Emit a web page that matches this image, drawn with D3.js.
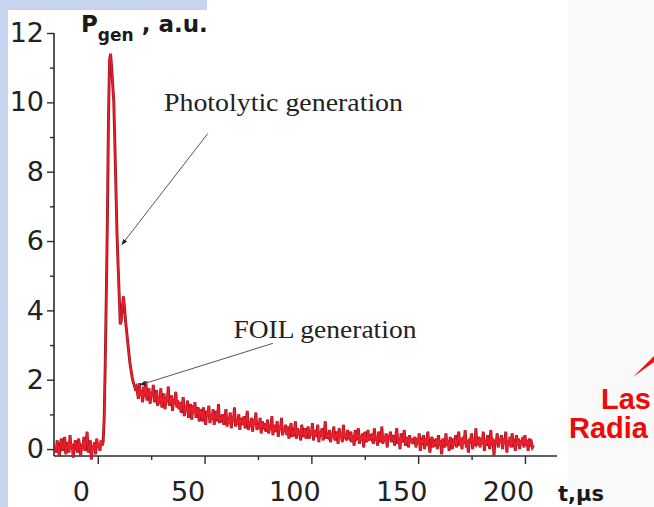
<!DOCTYPE html>
<html>
<head>
<meta charset="utf-8">
<script src="https://cdn.jsdelivr.net/npm/d3@7/dist/d3.min.js"></script>
<style>
  html, body { margin: 0; padding: 0; background: #ffffff; }
  svg { display: block; }
</style>
</head>
<body>
<div id="chart"></div>
<script>
// Generation power vs time (0.5 µs sampling)
const sampleStep = 0.5;

const baselineStart = -20;
const baselineSignal = [
  0.1, -0.1, 0.25, 0.0, -0.2, 0.15, 0.3, -0.05, 0.1, 0.35,
  -0.15, 0.05, 0.2, -0.1, 0.4, 0.0, 0.15, -0.25, 0.1, 0.25,
  0.05, -0.1, 0.3, 0.1, -0.2, 0.15, 0.0, 0.35, -0.05, 0.2,
  0.5, -0.1, 0.05, 0.25, -0.3, 0.1, 0.0, 0.2, -0.15, 0.3,
  0.05, 0.15, -0.05, 0.25, 0.1];

const pulseStart = 2.5;
const pulseSignal = [
  0.2, 0.9, 2.5, 4.5, 6.6, 9.5, 11.2, 11.4, 11.0, 10.5,
  10.0, 8.8, 7.5, 6.2, 5.3, 4.5, 3.6, 3.7, 4.1, 4.4,
  4.1, 3.7, 3.4, 3.1, 2.8, 2.5, 2.3, 2.1, 1.95, 1.85,
  1.75, 1.8];

const decayStart = 18.5;
const decaySignal = [
  1.65, 1.45, 1.9, 1.55, 1.7, 1.35, 1.8, 1.5, 1.95, 1.4, 1.6, 1.75, 1.3, 1.65, 1.5, 1.85, 1.35, 1.55, 1.7, 1.25,
  1.5, 1.3, 1.75, 1.2, 1.45, 1.6, 1.15, 1.5, 1.35, 1.8, 1.25, 1.4, 1.55, 1.1, 1.45, 1.3, 1.65, 1.2, 1.4, 1.15,
  1.35, 1.05, 1.25, 1.5, 0.95, 1.2, 1.1, 1.4, 0.9, 1.15, 1.3, 0.85, 1.25, 1.05, 1.35, 0.9, 1.1, 1.2, 0.8, 1.15,
  1.05, 0.8, 1.2, 0.9, 0.7, 1.1, 0.95, 1.25, 0.75, 1.0, 0.85, 1.15, 0.7, 0.95, 1.1, 0.8, 1.3, 0.75, 0.9, 0.85,
  1.0, 0.7, 0.9, 1.15, 0.65, 0.85, 0.75, 1.05, 0.6, 0.95, 0.8, 1.2, 0.65, 0.85, 0.7, 1.0, 0.55, 0.9, 0.8, 0.7,
  0.95, 0.6, 0.8, 1.1, 0.55, 0.75, 0.65, 0.9, 0.5, 0.85, 0.7, 1.05, 0.55, 0.7, 0.6, 0.9, 0.45, 0.8, 0.65, 0.6,
  0.75, 0.5, 0.85, 0.45, 0.65, 0.55, 0.95, 0.4, 0.7, 0.5, 0.6, 0.8, 0.35, 0.65, 0.55, 0.9, 0.4, 0.6, 0.5, 0.7,
  0.4, 0.65, 0.3, 0.55, 0.75, 0.35, 0.5, 0.45, 0.8, 0.3, 0.6, 0.4, 0.55, 0.25, 0.7, 0.45, 0.35, 0.6, 0.3, 0.5,
  0.65, 0.3, 0.5, 0.4, 0.75, 0.25, 0.55, 0.35, 0.45, 0.7, 0.2, 0.5, 0.4, 0.6, 0.25, 0.45, 0.8, 0.3, 0.4, 0.35,
  0.55, 0.2, 0.45, 0.35, 0.65, 0.25, 0.4, 0.5, 0.15, 0.6, 0.35, 0.45, 0.2, 0.7, 0.3, 0.4, 0.25, 0.55, 0.35, 0.3,
  0.5, 0.2, 0.4, 0.1, 0.55, 0.3, 0.35, 0.6, 0.15, 0.4, 0.25, 0.45, 0.05, 0.5, 0.3, 0.2, 0.55, 0.25, 0.35, 0.3,
  0.45, 0.15, 0.6, 0.25, 0.35, 0.1, 0.5, 0.3, 0.2, 0.65, 0.15, 0.35, 0.25, 0.45, 0.05, 0.4, 0.3, 0.5, 0.2, 0.3,
  0.4, 0.1, 0.35, 0.6, 0.15, 0.3, 0.0, 0.45, 0.2, 0.3, 0.55, 0.1, 0.25, 0.35, 0.05, 0.4, 0.2, 0.3, 0.15, 0.25,
  0.35, 0.05, 0.3, 0.15, 0.45, -0.05, 0.25, 0.2, 0.4, 0.0, 0.3, 0.1, 0.5, 0.15, -0.1, 0.25, 0.35, 0.05, 0.2, 0.15,
  0.3, 0.0, 0.4, 0.1, 0.25, -0.15, 0.3, 0.15, 0.05, 0.45, 0.1, 0.25, -0.05, 0.35, 0.2, 0.0, 0.3, 0.1, 0.4, 0.05,
  0.25, 0.5, 0.1, 0.3, 0.0, 0.35, 0.15, 0.55, 0.05, 0.25, -0.1, 0.3, 0.2, 0.45, 0.0, 0.25, 0.1, 0.6, 0.15, 0.2,
  0.35, 0.05, 0.3, 0.15, 0.5, -0.05, 0.25, 0.1, 0.4, 0.2, 0.0, 0.55, 0.1, 0.3, -0.2, 0.25, 0.15, 0.45, 0.05, 0.3,
  0.2, 0.4, 0.0, 0.3, 0.15, 0.5, -0.1, 0.25, 0.1, 0.35, 0.05, 0.45, 0.15, 0.2, -0.05, 0.4, 0.1, 0.3, 0.0, 0.25,
  0.15, 0.35, 0.05, 0.4, 0.1, 0.25, -0.05, 0.3, 0.15, 0.2, 0.05, 0.1];

const xTicks = [0, 50, 100, 150, 200];
const xMinorTicks = [25, 75, 125, 175];
const yTicks = [0, 2, 4, 6, 8, 10, 12];
const yMinorTicks = [1, 3, 5, 7, 9, 11];

// annotations: text position, arrow start and arrow tip, all in data units
const annotations = [
  { label: 'Photolytic generation', at: [31, 9.75], from: [51.5, 9.1], to: [11.3, 5.9], span: 239 },
  { label: 'FOIL generation', at: [63.5, 3.2], from: [82, 3.05], to: [19.8, 1.85], span: 183 }
];

const width = 654;
const height = 507;

const x = d3.scaleLinear().domain([-20.5, 215]).range([54, 557]);
const y = d3.scaleLinear().domain([-0.2, 12]).range([456, 33]);

const toPoints = (start, arr) => arr.map((v, i) => ({ t: start + i * sampleStep, v }));
const series = [
  ...toPoints(baselineStart, baselineSignal),
  ...toPoints(pulseStart, pulseSignal),
  ...toPoints(decayStart, decaySignal)
];

const svg = d3.select('#chart')
  .append('svg')
  .attr('width', width)
  .attr('height', height)
  .attr('viewBox', `0 0 ${width} ${height}`);

/* Page background pieces from the slide */
svg.append('rect').attr('width', width).attr('height', height).attr('fill', '#ffffff');
svg.append('rect').attr('x', 568).attr('y', 0).attr('width', width - 568).attr('height', height).attr('fill', '#f9f9f9');
svg.append('rect').attr('x', 0).attr('y', 0).attr('width', 207).attr('height', 10).attr('fill', '#c6d4ef');
svg.append('rect').attr('x', 0).attr('y', 0).attr('width', 8).attr('height', height).attr('fill', '#c6d4ef');

const axisColor = '#2b2b2b';
const labelFont = '"DejaVu Sans", "Liberation Sans", Arial, sans-serif';

/* Y axis */
const yAxis = svg.append('g')
  .attr('transform', `translate(${x.range()[0]},0)`)
  .call(d3.axisLeft(y).tickValues(yTicks).tickSize(7).tickPadding(3).tickSizeOuter(0));
yAxis.select('.domain').remove();
yAxis.selectAll('line').attr('stroke', axisColor).attr('stroke-width', 1.4);
yAxis.selectAll('text')
  .attr('fill', '#222')
  .attr('font-family', labelFont)
  .attr('font-size', 27);

svg.append('g')
  .attr('transform', `translate(${x.range()[0]},0)`)
  .call(d3.axisLeft(y).tickValues(yMinorTicks).tickSize(4).tickFormat(''))
  .call((g) => g.select('.domain').remove())
  .selectAll('line').attr('stroke', axisColor).attr('stroke-width', 1.4);

svg.append('line')
  .attr('x1', x.range()[0]).attr('x2', x.range()[0])
  .attr('y1', y(12)).attr('y2', y.range()[0])
  .attr('stroke', axisColor).attr('stroke-width', 1.6);

/* X axis (labels sit a little left of their ticks in the source) */
const xAxis = svg.append('g')
  .attr('transform', `translate(0,${y.range()[0]})`)
  .call(d3.axisBottom(x).tickValues(xTicks).tickSize(8).tickPadding(18).tickSizeOuter(0));
xAxis.select('.domain').remove();
xAxis.selectAll('line').attr('stroke', axisColor).attr('stroke-width', 1.4);
xAxis.selectAll('text')
  .attr('dx', -17)
  .attr('fill', '#222')
  .attr('font-family', labelFont)
  .attr('font-size', 27);

svg.append('g')
  .attr('transform', `translate(0,${y.range()[0]})`)
  .call(d3.axisBottom(x).tickValues(xMinorTicks).tickSize(4).tickFormat(''))
  .call((g) => g.select('.domain').remove())
  .selectAll('line').attr('stroke', axisColor).attr('stroke-width', 1.4);

svg.append('line')
  .attr('x1', x.range()[0]).attr('x2', x.range()[1])
  .attr('y1', y.range()[0]).attr('y2', y.range()[0])
  .attr('stroke', axisColor).attr('stroke-width', 1.6);

/* Axis titles */
const yTitle = svg.append('text')
  .attr('x', 81).attr('y', 32)
  .attr('font-family', labelFont)
  .attr('font-weight', 700)
  .attr('font-size', 23)
  .attr('fill', '#1a1a1a');
yTitle.append('tspan').text('P');
yTitle.append('tspan').attr('dy', 9).attr('font-size', 17).text('gen');
yTitle.append('tspan').attr('dy', -9).text(' , a.u.');

svg.append('text')
  .attr('x', 558).attr('y', 501)
  .attr('font-family', labelFont)
  .attr('font-weight', 700)
  .attr('font-size', 21)
  .attr('fill', '#1a1a1a')
  .text('t,μs');

/* Signal trace */
const line = d3.line()
  .x((d) => x(d.t))
  .y((d) => y(d.v));

svg.append('path')
  .datum(series)
  .attr('fill', 'none')
  .attr('stroke', '#a3121e')
  .attr('stroke-width', 2.9)
  .attr('stroke-linejoin', 'miter')
  .attr('d', line);

svg.append('path')
  .datum(series)
  .attr('fill', 'none')
  .attr('stroke', '#ec1f2d')
  .attr('stroke-width', 1.4)
  .attr('stroke-linejoin', 'miter')
  .attr('d', line);

/* Annotations */
svg.append('defs').append('marker')
  .attr('id', 'tip')
  .attr('viewBox', '0 0 10 10')
  .attr('refX', 9).attr('refY', 5)
  .attr('markerWidth', 6).attr('markerHeight', 6)
  .attr('orient', 'auto')
  .append('path')
  .attr('d', 'M0,1 L10,5 L0,9 Z')
  .attr('fill', '#222');

annotations.forEach((a) => {
  svg.append('line')
    .attr('x1', x(a.from[0])).attr('y1', y(a.from[1]))
    .attr('x2', x(a.to[0])).attr('y2', y(a.to[1]))
    .attr('stroke', '#555')
    .attr('stroke-width', 1)
    .attr('marker-end', 'url(#tip)');

  svg.append('text')
    .attr('x', x(a.at[0])).attr('y', y(a.at[1]))
    .attr('font-family', '"Liberation Serif", "Times New Roman", serif')
    .attr('font-size', 25)
    .attr('textLength', a.span)
    .attr('lengthAdjust', 'spacingAndGlyphs')
    .attr('fill', '#222')
    .text(a.label);
});

/* Slide caption, cut by the right edge of the crop */
svg.append('path')
  .attr('d', 'M633,377 L654,356 L654,362 Z')
  .attr('fill', '#ee1111');

svg.append('text')
  .attr('x', 601).attr('y', 409)
  .attr('font-family', '"Liberation Sans", Arial, sans-serif')
  .attr('font-weight', 700)
  .attr('font-size', 29)
  .attr('fill', '#ee0a0a')
  .text('Las');

svg.append('text')
  .attr('x', 569).attr('y', 438)
  .attr('font-family', '"Liberation Sans", Arial, sans-serif')
  .attr('font-weight', 700)
  .attr('font-size', 29)
  .attr('fill', '#ee0a0a')
  .text('Radia');
</script>
</body>
</html>
